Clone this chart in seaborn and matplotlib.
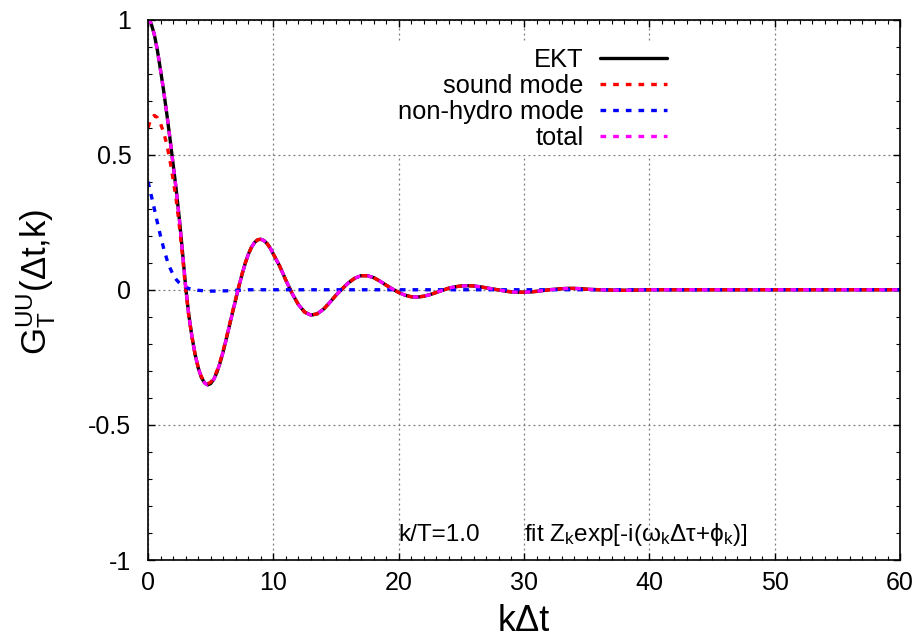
import numpy as np
import pandas as pd
import matplotlib
matplotlib.use("Agg")
import matplotlib.pyplot as plt
import seaborn as sns
from matplotlib.ticker import MultipleLocator, FixedLocator

# ---- data: correlator vs k*dt at k/T = 1.0 ----
kdt = [0, 0.25, 0.5, 0.75, 1, 1.25, 1.5, 1.75, 2, 2.25, 2.5, 2.75,
       3, 3.25, 3.5, 3.75, 4, 4.25, 4.5, 4.75, 5, 5.25, 5.5, 5.75,
       6, 6.25, 6.5, 6.75, 7, 7.25, 7.5, 7.75, 8, 8.25, 8.5, 8.75,
       9, 9.25, 9.5, 9.75, 10,
       10.5, 11, 11.5, 12, 12.5, 13, 13.5, 14, 14.5, 15, 15.5, 16,
       16.5, 17, 17.5, 18, 18.5, 19, 19.5, 20, 20.5, 21, 21.5, 22,
       22.5, 23, 23.5, 24, 24.5, 25, 25.5, 26, 26.5, 27, 27.5, 28,
       28.5, 29, 29.5, 30, 30.5, 31, 31.5, 32, 32.5, 33, 33.5, 34,
       34.5, 35, 35.5, 36,
       37, 38, 39, 40, 45, 50, 55, 60]

ekt = [1.000, 0.985, 0.945, 0.885, 0.812, 0.735, 0.650, 0.560, 0.465, 0.370, 0.262, 0.140,
       0.012, -0.092, -0.172, -0.238, -0.288, -0.324, -0.344, -0.352, -0.347, -0.331, -0.305, -0.270,
       -0.228, -0.181, -0.132, -0.083, -0.035, 0.012, 0.057, 0.097, 0.131, 0.157, 0.175, 0.185,
       0.187, 0.182, 0.171, 0.154, 0.132,
       0.088, 0.035, -0.014, -0.055, -0.083, -0.094, -0.089, -0.072, -0.047, -0.020, 0.004, 0.026,
       0.043, 0.052, 0.052, 0.045, 0.032, 0.017, 0.003, -0.010, -0.020, -0.026, -0.027, -0.024,
       -0.018, -0.010, -0.002, 0.006, 0.011, 0.014, 0.015, 0.014, 0.011, 0.007, 0.003, -0.001,
       -0.005, -0.008, -0.009, -0.009, -0.008, -0.006, -0.003, 0.000, 0.002, 0.004, 0.005, 0.005,
       0.004, 0.002, 0.001, 0.000,
       -0.001, -0.002, -0.001, 0.000, 0.000, 0.000, 0.000, 0.000]

sound_mode = [0.600, 0.635, 0.645, 0.637, 0.614, 0.582, 0.537, 0.479, 0.409, 0.332, 0.237, 0.125,
              0.003, -0.097, -0.174, -0.238, -0.286, -0.321, -0.340, -0.348, -0.342, -0.326, -0.300, -0.266,
              -0.224, -0.177, -0.129, -0.080, -0.033, 0.014, 0.058, 0.098, 0.131, 0.157, 0.175, 0.185,
              0.187, 0.182, 0.171, 0.154, 0.132,
              0.088, 0.035, -0.014, -0.055, -0.083, -0.094, -0.089, -0.072, -0.047, -0.020, 0.004, 0.026,
              0.043, 0.052, 0.052, 0.045, 0.032, 0.017, 0.003, -0.010, -0.020, -0.026, -0.027, -0.024,
              -0.018, -0.010, -0.002, 0.006, 0.011, 0.014, 0.015, 0.014, 0.011, 0.007, 0.003, -0.001,
              -0.005, -0.008, -0.009, -0.009, -0.008, -0.006, -0.003, 0.000, 0.002, 0.004, 0.005, 0.005,
              0.004, 0.002, 0.001, 0.000,
              -0.001, -0.002, -0.001, 0.000, 0.000, 0.000, 0.000, 0.000]

nonhydro_mode = [0.400, 0.350, 0.300, 0.248, 0.198, 0.153, 0.113, 0.081, 0.056, 0.038, 0.025, 0.015,
                 0.009, 0.005, 0.002, 0.000, -0.002, -0.003, -0.004, -0.004, -0.005, -0.005, -0.005, -0.004,
                 -0.004, -0.004, -0.003, -0.003, -0.002, -0.002, -0.001, -0.001, 0.000, 0.000, 0.000, 0.000,
                 0.000, 0.000, 0.000, 0.000, 0.000,
                 0.000, 0.000, 0.000, 0.000, 0.000, 0.000, 0.000, 0.000, 0.000, 0.000, 0.000, 0.000,
                 0.000, 0.000, 0.000, 0.000, 0.000, 0.000, 0.000, 0.000, 0.000, 0.000, 0.000, 0.000,
                 0.000, 0.000, 0.000, 0.000, 0.000, 0.000, 0.000, 0.000, 0.000, 0.000, 0.000, 0.000,
                 0.000, 0.000, 0.000, 0.000, 0.000, 0.000, 0.000, 0.000, 0.000, 0.000, 0.000, 0.000,
                 0.000, 0.000, 0.000, 0.000,
                 0.000, 0.000, 0.000, 0.000, 0.000, 0.000, 0.000, 0.000]

# the fitted total is the sum of both modes
total = list(np.add(sound_mode, nonhydro_mode))

assert len(kdt) == len(ekt) == len(sound_mode) == len(nonhydro_mode)

series_labels = ["EKT", "sound mode", "non-hydro mode", "total"]
series_values = [ekt, sound_mode, nonhydro_mode, total]
series_colors = ["black", "#ff0000", "#0000ff", "#ff00ff"]

x_ticks = [0, 10, 20, 30, 40, 50, 60]
y_ticks = [-1, -0.5, 0, 0.5, 1]
y_ticklabels = ["-1", "-0.5", "0", "0.5", "1"]

# ---- style ----
sns.set_style("ticks")
plt.rcParams["font.family"] = ["Liberation Sans", "DejaVu Sans"]
plt.rcParams["mathtext.fontset"] = "custom"
plt.rcParams["mathtext.rm"] = "Liberation Sans"
plt.rcParams["mathtext.it"] = "Liberation Sans:italic"
plt.rcParams["mathtext.bf"] = "Liberation Sans:bold"
plt.rcParams["mathtext.sf"] = "Liberation Sans"
for key in ["text.color", "axes.labelcolor", "xtick.color", "ytick.color",
            "xtick.labelcolor", "ytick.labelcolor", "axes.edgecolor"]:
    plt.rcParams[key] = "black"

fig = plt.figure(figsize=(9.2, 6.4), dpi=100)
ax = fig.add_axes([0.1609, 0.125, 0.8174, 0.8445])

dash = (0, (1.7, 2.1))
for label, vals, color in zip(series_labels, series_values, series_colors):
    df = pd.DataFrame({"kdt": kdt, "G": vals})
    ls = "-" if label == "EKT" else dash
    sns.lineplot(data=df, x="kdt", y="G", ax=ax, color=color, lw=2.4,
                 linestyle=ls, label=label, sort=False, estimator=None)

ax.set_xlim(0, 60)
ax.set_ylim(-1, 1)
ax.xaxis.set_major_locator(FixedLocator(x_ticks))
ax.yaxis.set_major_locator(FixedLocator(y_ticks))
ax.set_yticklabels(y_ticklabels)
ax.xaxis.set_minor_locator(MultipleLocator(1))
ax.yaxis.set_minor_locator(MultipleLocator(0.1))

ax.tick_params(which="both", direction="in", top=True, right=True,
               color="black", labelcolor="black")
ax.tick_params(which="major", length=5, width=1.0, labelsize=18)
ax.tick_params(which="minor", length=2.8, width=0.8)
ax.tick_params(axis="x", which="major", pad=8)
ax.tick_params(axis="y", which="major", pad=12)

for sp in ax.spines.values():
    sp.set_visible(True)
    sp.set_color("black")
    sp.set_linewidth(1.2)

ax.set_axisbelow(True)
ax.grid(True, which="major", color="#7a7a7a", linestyle=(0, (1.5, 2.5)), linewidth=0.9)

ax.set_xlabel("kΔt", fontsize=26)
ax.set_ylabel(r"G$_\mathrm{T}^\mathrm{UU}$(Δt,k)", fontsize=25)
ax.xaxis.set_label_coords(0.5, -0.082)
ax.yaxis.set_label_coords(-0.12, 0.515)

ax.text(20, -0.93, "k/T=1.0", fontsize=17.5, va="baseline", ha="left")
ax.text(30, -0.93, r"fit Z$_\mathrm{k}$exp[-i(ω$_\mathrm{k}$Δτ+ϕ$_\mathrm{k}$)]",
        fontsize=17.5, va="baseline", ha="left")

leg = ax.legend(loc="upper right", bbox_to_anchor=(672 / 920, 1 - 43 / 640),
                bbox_transform=fig.transFigure, markerfirst=False, fontsize=18.4,
                frameon=True, framealpha=1, facecolor="white", edgecolor="none",
                handlelength=2.6, handletextpad=0.65, labelspacing=0.08,
                borderpad=0.2, borderaxespad=0)
leg.get_frame().set_linewidth(0)

fig.savefig("out.png", dpi=100)
